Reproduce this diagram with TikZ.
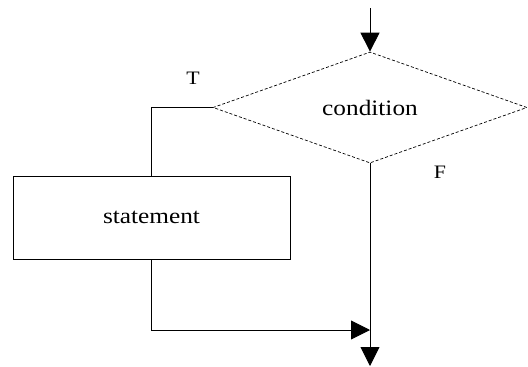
\documentclass[tikz,border=0pt]{standalone}
\usepackage{fontspec}
\setmainfont{Liberation Serif}[FakeStretch=1.15]
\usetikzlibrary{arrows.meta,shapes.geometric}
\begin{document}
\begin{tikzpicture}[x=1pt,y=-1pt,
  flow/.style={line width=0.9pt},
  tip/.style={-{Triangle[length=19pt,width=19pt]}},
  test/.style={diamond,draw,line width=0.7pt,dash pattern=on 3pt off 2pt,
    minimum width=314pt,minimum height=81pt,inner sep=0pt,font=\fontsize{22}{24}\selectfont},
  stepbox/.style={rectangle,draw,line width=0.9pt,minimum width=277pt,
    minimum height=83pt,inner sep=0pt,font=\fontsize{22}{24}\selectfont},
  lbl/.style={font=\fontsize{19}{21}\selectfont,inner sep=0pt}]
\useasboundingbox (0,0) rectangle (528,367);
\coordinate (in) at (370,8);
\coordinate (out) at (370,366);
\coordinate (join) at (370,330);
\node[test] (cond) at (370,107.5) {condition};
\node[stepbox] (stmt) at (151.5,217.5) {statement};
\node[lbl] (t) at (193,78) {T};
\node[lbl] (f) at (440,172) {F};
\draw[flow,tip] (in) -- (cond.north);
\draw[flow] (cond.west) -| (stmt.north);
\draw[flow,tip] (cond.south) -- (out);
\draw[flow,tip] (stmt.south) |- (join);
\end{tikzpicture}
\end{document}
